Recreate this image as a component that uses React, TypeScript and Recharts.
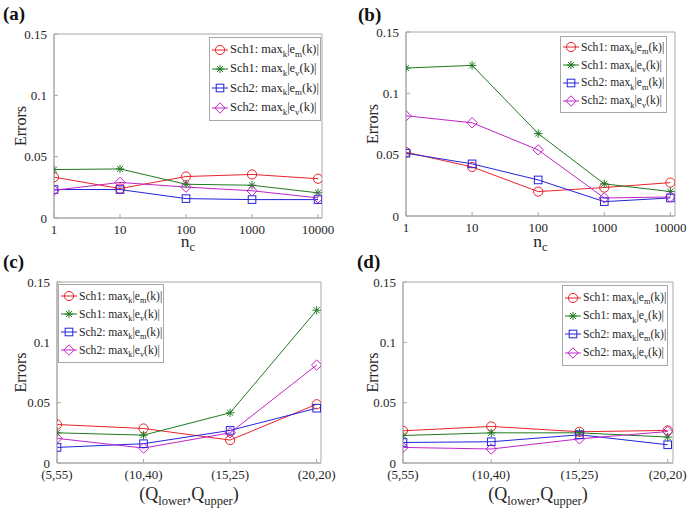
import { LineChart, Line, XAxis, YAxis, ReferenceArea, Legend, Label } from 'recharts'

// x-axis tick labels
const ncTicks = ['1', '10', '100', '1000', '10000']
const qTicks = ['(5,55)', '(10,40)', '(15,25)', '(20,20)']

// legend parts: scheme and error subscript
const schemes = ['Sch1', 'Sch1', 'Sch2', 'Sch2']
const errSubs = ['m', 'v', 'm', 'v']

// panel (a): errors vs n_c
const aSch1m = [0.0333, 0.024, 0.0338, 0.0355, 0.032]
const aSch1v = [0.0395, 0.04, 0.0275, 0.0267, 0.0205]
const aSch2m = [0.0232, 0.0232, 0.0158, 0.015, 0.015]
const aSch2v = [0.0226, 0.029, 0.0252, 0.0222, 0.0164]

// panel (b): errors vs n_c
const bSch1m = [0.052, 0.04, 0.0199, 0.0232, 0.0272]
const bSch1v = [0.1206, 0.1228, 0.0672, 0.0262, 0.0199]
const bSch2m = [0.0512, 0.0425, 0.0294, 0.0117, 0.0147]
const bSch2v = [0.0817, 0.076, 0.0539, 0.0147, 0.0155]

// panel (c): errors vs (Q_lower, Q_upper)
const cSch1m = [0.0319, 0.0286, 0.019, 0.0487]
const cSch1v = [0.025, 0.0231, 0.0416, 0.1266]
const cSch2m = [0.0129, 0.016, 0.027, 0.0454]
const cSch2v = [0.0204, 0.0124, 0.025, 0.0812]

// panel (d): errors vs (Q_lower, Q_upper)
const dSch1m = [0.0267, 0.0303, 0.0259, 0.027]
const dSch1v = [0.0228, 0.025, 0.025, 0.0215]
const dSch2m = [0.017, 0.0176, 0.0234, 0.0151]
const dSch2v = [0.0129, 0.0116, 0.02, 0.0261]

const yTicks = [0, 0.05, 0.1, 0.15]

const SERIES = [
  { key: 's1m', color: '#e8232a', marker: 'circle' },
  { key: 's1v', color: '#1f7a1f', marker: 'star' },
  { key: 's2m', color: '#2424dc', marker: 'square' },
  { key: 's2v', color: '#c024c8', marker: 'diamond' },
]

const AXIS = '#a8a8a8'
const TEXT = '#262626'
const FONT = 'Liberation Serif, Tinos, DejaVu Serif, serif'
const TICK_IN = 4

function buildRows(m1: number[], v1: number[], m2: number[], v2: number[]) {
  return m1.map((_, i) => ({ x: i, s1m: m1[i], s1v: v1[i], s2m: m2[i], s2v: v2[i] }))
}

function Marker({ kind, cx, cy, color }: { kind: string; cx: number; cy: number; color: string }) {
  if (kind === 'circle') {
    return <circle cx={cx} cy={cy} r={4.6} fill="none" stroke={color} strokeWidth={1} />
  }
  if (kind === 'square') {
    return <rect x={cx - 3.8} y={cy - 3.8} width={7.6} height={7.6} fill="none" stroke={color} strokeWidth={1} />
  }
  if (kind === 'diamond') {
    return (
      <path
        d={`M${cx},${cy - 5.2}L${cx + 5.2},${cy}L${cx},${cy + 5.2}L${cx - 5.2},${cy}Z`}
        fill="none"
        stroke={color}
        strokeWidth={1}
      />
    )
  }
  const r = 4.2
  const d = r * 0.72
  return (
    <path
      d={`M${cx - r},${cy}L${cx + r},${cy}M${cx},${cy - r}L${cx},${cy + r}M${cx - d},${cy - d}L${cx + d},${cy + d}M${cx - d},${cy + d}L${cx + d},${cy - d}`}
      stroke={color}
      strokeWidth={1}
    />
  )
}

function LegendBox({ width, rowH, fontSize, padTop }: { width: number; rowH: number; fontSize: number; padTop: number }) {
  const sub = { fontSize: fontSize * 0.72, position: 'relative' as const, top: fontSize * 0.28 }
  return (
    <div
      style={{
        width,
        boxSizing: 'border-box',
        border: `1px solid ${AXIS}`,
        background: '#fff',
        padding: `${padTop}px 2px ${padTop + 1}px 1px`,
        fontFamily: FONT,
        fontSize,
        color: TEXT,
      }}
    >
      {SERIES.map((s, i) => (
        <div key={s.key} style={{ display: 'flex', alignItems: 'center', height: rowH, whiteSpace: 'nowrap' }}>
          <svg width={18} height={12} style={{ marginRight: 1, flexShrink: 0 }}>
            <line x1={1} y1={6} x2={17} y2={6} stroke={s.color} strokeWidth={1} />
            <Marker kind={s.marker} cx={9} cy={6} color={s.color} />
          </svg>
          <span>
            {schemes[i]}: max<span style={sub}>k</span>|e<span style={sub}>{errSubs[i]}</span>(k)|
          </span>
        </div>
      ))}
    </div>
  )
}

interface PanelProps {
  letter: string
  left: number
  top: number
  rows: Record<string, number>[]
  xTicks: string[]
  xMax: number
  plotLeft: number
  plotTop: number
  plotRight: number
  plotBottom: number
  legendLeft: number
  legendTop: number
  legendWidth: number
  legendRow: number
  legendFont: number
  legendPad: number
  yLabelX: number
  xLabel: 'nc' | 'q'
  xTickGap: number
  xLabelY: number
  letterTop: number
  letterLeft: number
}

const W = 345
const H = 255

function Panel(p: PanelProps) {
  const xt = p.xTicks.map((_, i) => i)
  return (
    <div style={{ position: 'absolute', left: p.left, top: p.top, width: W, height: H }}>
      <LineChart
        width={W}
        height={H}
        data={p.rows}
        margin={{ top: p.plotTop - 1, right: W - p.plotRight - 1, bottom: 0, left: 0 }}
        style={{ fontFamily: FONT }}
      >
        <XAxis
          dataKey="x"
          type="number"
          domain={[0, p.xMax]}
          ticks={xt}
          allowDataOverflow
          tickFormatter={(v: number) => p.xTicks[v] ?? ''}
          height={H - p.plotBottom}
          tick={{ fontSize: 13, fill: TEXT, fontFamily: FONT }}
          tickLine={{ stroke: AXIS }}
          tickSize={-TICK_IN}
          tickMargin={TICK_IN + p.xTickGap}
          axisLine={{ stroke: AXIS }}
        >
          <Label
            content={(props: any) => {
              const vb = props.viewBox
              const cx = vb.x + vb.width / 2
              if (p.xLabel === 'nc') {
                return (
                  <text x={cx} y={vb.y + p.xLabelY} textAnchor="middle" fontSize={17.5} fill={TEXT} fontFamily={FONT}>
                    n<tspan dy={4} fontSize={12.5}>c</tspan>
                  </text>
                )
              }
              return (
                <text x={cx} y={vb.y + p.xLabelY} textAnchor="middle" fontSize={18} fill={TEXT} fontFamily={FONT}>
                  (Q<tspan dy={5} fontSize={12.5}>lower</tspan>
                  <tspan dy={-5}>,Q</tspan>
                  <tspan dy={5} fontSize={12.5}>upper</tspan>
                  <tspan dy={-5}>)</tspan>
                </text>
              )
            }}
          />
        </XAxis>
        <XAxis
          xAxisId="top"
          orientation="top"
          dataKey="x"
          type="number"
          domain={[0, p.xMax]}
          ticks={xt}
          allowDataOverflow
          height={1}
          tick={false}
          tickLine={{ stroke: AXIS }}
          tickSize={-TICK_IN}
          axisLine={false}
        />
        <YAxis
          type="number"
          domain={[0, 0.15]}
          ticks={yTicks}
          width={p.plotLeft}
          tick={{ fontSize: 13, fill: TEXT, fontFamily: FONT }}
          tickFormatter={(v: number) => String(v)}
          tickLine={{ stroke: AXIS }}
          tickSize={-TICK_IN}
          tickMargin={TICK_IN + 7}
          axisLine={{ stroke: AXIS }}
        >
          <Label
            content={(props: any) => {
              const vb = props.viewBox
              const cy = vb.y + vb.height / 2
              return (
                <text
                  x={p.yLabelX}
                  y={cy}
                  textAnchor="middle"
                  dominantBaseline="central"
                  fontSize={16}
                  fill={TEXT}
                  fontFamily={FONT}
                  transform={`rotate(-90, ${p.yLabelX}, ${cy})`}
                >
                  Errors
                </text>
              )
            }}
          />
        </YAxis>
        <YAxis
          yAxisId="right"
          orientation="right"
          type="number"
          domain={[0, 0.15]}
          ticks={yTicks}
          width={1}
          tick={false}
          tickLine={{ stroke: AXIS }}
          tickSize={-TICK_IN}
          axisLine={false}
        />
        <ReferenceArea x1={0} x2={p.xMax} y1={0} y2={0.15} fill="none" stroke={AXIS} strokeWidth={1} ifOverflow="visible" />
        {SERIES.map((s) => (
          <Line
            key={s.key}
            dataKey={s.key}
            stroke={s.color}
            strokeWidth={1}
            isAnimationActive={false}
            activeDot={false}
            dot={(d: any) => <Marker key={`${s.key}-${d.index}`} kind={s.marker} cx={d.cx} cy={d.cy} color={s.color} />}
          />
        ))}
        <Legend
          layout="vertical"
          align="center"
          verticalAlign="middle"
          wrapperStyle={{ left: p.legendLeft, top: p.legendTop, width: p.legendWidth, height: 'auto' }}
          content={() => (
            <LegendBox width={p.legendWidth} rowH={p.legendRow} fontSize={p.legendFont} padTop={p.legendPad} />
          )}
        />
      </LineChart>
      <div
        style={{
          position: 'absolute',
          left: p.letterLeft,
          top: p.letterTop,
          fontFamily: FONT,
          fontWeight: 'bold',
          fontSize: 19,
          lineHeight: '19px',
          color: '#111',
        }}
      >
        {p.letter}
      </div>
    </div>
  )
}

export default function App() {
  return (
    <div
      style={{
        position: 'absolute',
        left: 0,
        top: 0,
        width: 690,
        height: 510,
        background: '#fff',
        fontFamily: FONT,
        overflow: 'hidden',
      }}
    >
      <Panel
        letter="(a)"
        left={0}
        top={0}
        rows={buildRows(aSch1m, aSch1v, aSch2m, aSch2v)}
        xTicks={ncTicks}
        xMax={4.06}
        plotLeft={54}
        plotTop={34}
        plotRight={322}
        plotBottom={218}
        legendLeft={209}
        legendTop={37}
        legendWidth={112}
        legendRow={19.3}
        legendFont={12.4}
        legendPad={2}
        yLabelX={20}
        xLabel="nc"
        xTickGap={7}
        xLabelY={29}
        letterLeft={3}
        letterTop={4}
      />
      <Panel
        letter="(b)"
        left={345}
        top={0}
        rows={buildRows(bSch1m, bSch1v, bSch2m, bSch2v)}
        xTicks={ncTicks}
        xMax={4.07}
        plotLeft={61}
        plotTop={32}
        plotRight={330}
        plotBottom={216}
        legendLeft={215}
        legendTop={36}
        legendWidth={107}
        legendRow={17.8}
        legendFont={11.6}
        legendPad={1.5}
        yLabelX={27}
        xLabel="nc"
        xTickGap={7}
        xLabelY={31}
        letterLeft={13}
        letterTop={5}
      />
      <Panel
        letter="(c)"
        left={0}
        top={255}
        rows={buildRows(cSch1m, cSch1v, cSch2m, cSch2v)}
        xTicks={qTicks}
        xMax={3.05}
        plotLeft={57}
        plotTop={27}
        plotRight={321}
        plotBottom={208}
        legendLeft={58}
        legendTop={29}
        legendWidth={106}
        legendRow={18}
        legendFont={11.6}
        legendPad={2}
        yLabelX={20}
        xLabel="q"
        xTickGap={7}
        xLabelY={37}
        letterLeft={3}
        letterTop={-3}
      />
      <Panel
        letter="(d)"
        left={345}
        top={255}
        rows={buildRows(dSch1m, dSch1v, dSch2m, dSch2v)}
        xTicks={qTicks}
        xMax={3.06}
        plotLeft={58}
        plotTop={27}
        plotRight={328}
        plotBottom={208}
        legendLeft={217}
        legendTop={30}
        legendWidth={106}
        legendRow={18.3}
        legendFont={11.6}
        legendPad={2.5}
        yLabelX={27}
        xLabel="q"
        xTickGap={7}
        xLabelY={37}
        letterLeft={12}
        letterTop={-3}
      />
    </div>
  )
}
